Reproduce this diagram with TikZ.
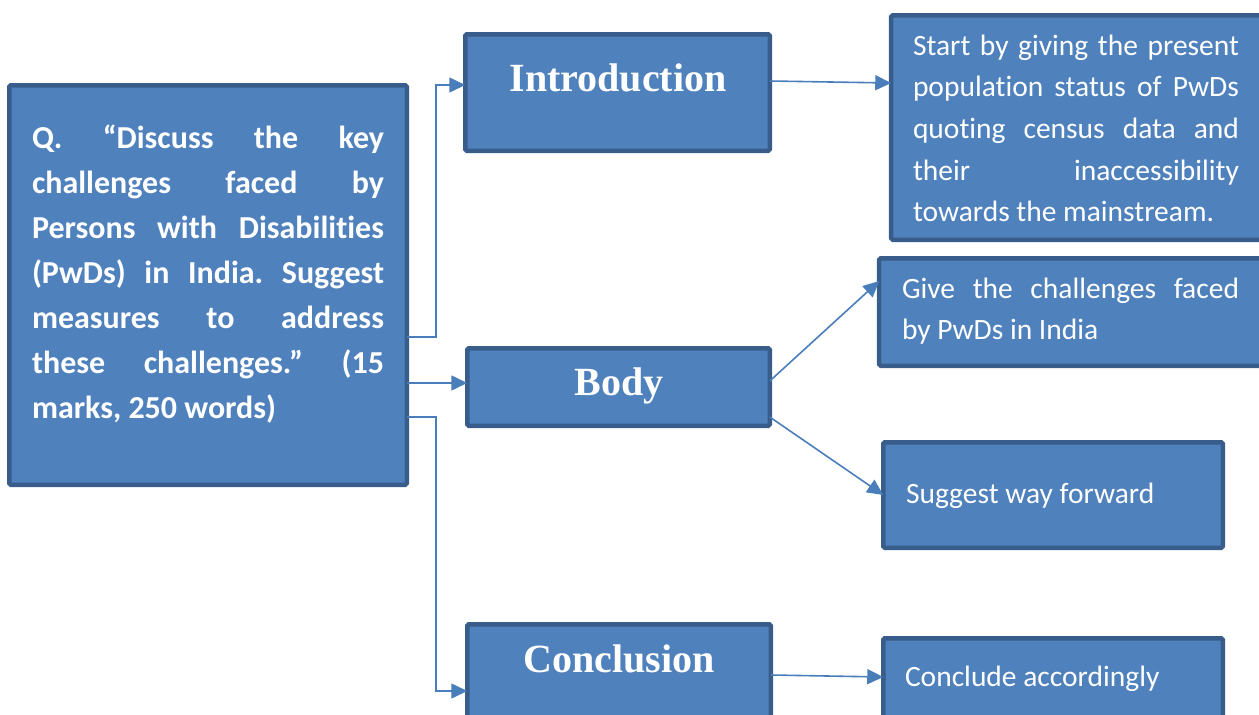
\documentclass[tikz,border=0pt]{standalone}
\usepackage{fontspec}
\setmainfont{Carlito}[Ligatures={NoCommon,NoContextual}]
\newfontfamily\headfont{Liberation Serif}
\usetikzlibrary{arrows.meta}

\definecolor{boxfill}{HTML}{4F81BD}
\definecolor{boxline}{HTML}{385D8A}
\definecolor{linkc}{HTML}{4A7EBB}

% justified line of fixed width
\newcommand{\jl}[2]{\makebox[#1][s]{#2}}
\frenchspacing

\tikzset{
  box/.style={draw=boxline, fill=boxfill, line width=4.5pt, rounded corners=1.5pt,
              inner sep=0pt, outer sep=0pt},
  conn/.style={draw=linkc, line width=1.6pt, -{Triangle[length=16pt,width=15pt]}},
  head/.style={text=white, font=\headfont\bfseries\fontsize{40}{48}\selectfont,
               inner sep=0pt, outer sep=0pt, anchor=base},
  qtext/.style={text=white, font=\bfseries\fontsize{32}{45}\selectfont, align=left,
                inner sep=0pt, outer sep=0pt, anchor=north west},
  rtext/.style={text=white, font=\fontsize{29.5}{41.6}\selectfont, align=left,
                inner sep=0pt, outer sep=0pt, anchor=north west},
  single/.style={text=white, font=\fontsize{29.5}{41.6}\selectfont,
                 inner sep=0pt, outer sep=0pt, anchor=base west},
}

\begin{document}
\begin{tikzpicture}[x=1pt, y=-1pt]
\useasboundingbox (0,0) rectangle (1259,715);

% boxes
\node[box, minimum width=397.5pt, minimum height=399.5pt] (q) at (208,285) {};
\node[box, minimum width=304.5pt, minimum height=116.5pt] (intro) at (617.5,92.5) {};
\node[box, minimum width=302.5pt, minimum height=77.5pt] (body) at (618.5,387) {};
\node[box, minimum width=303.5pt, minimum height=116.5pt] (concl) at (619,682.5) {};
\node[box, minimum width=378.75pt, minimum height=224.5pt] (itext) at (1080.6,127.5) {};
\node[box, minimum width=390.75pt, minimum height=107.5pt] (chal) at (1074.6,312) {};
\node[box, minimum width=339.5pt, minimum height=105.5pt] (way) at (1053,495) {};
\node[box, minimum width=339.5pt, minimum height=106.5pt] (conc) at (1053,691.5) {};

% question text
\node[qtext] (qt) at (32,116.5) {\strut\jl{352pt}{Q. “Discuss the key}\\
\jl{352pt}{challenges faced by}\\
\jl{352pt}{Persons with Disabilities}\\
\jl{352pt}{(PwDs) in India. Suggest}\\
\jl{352pt}{measures to address}\\
\jl{352pt}{these challenges.” (15}\\
marks, 250 words)};

% section headings
\node[head] (hintro) at (618,91) {Introduction};
\node[head] (hbody) at (619,395) {Body};
\node[head] (hconcl) at (619,672) {Conclusion};

% guidance texts
\node[rtext] (t1) at (913,26.2) {\strut\jl{326pt}{Start by giving the present}\\
\jl{326pt}{population status of PwDs}\\
\jl{326pt}{quoting census data and}\\
\jl{326pt}{their inaccessibility}\\
towards the mainstream.};
\node[rtext] (t2) at (902,268.9) {\strut\jl{337pt}{Give the challenges faced}\\
by PwDs in India};
\node[single] (t3) at (906,503) {Suggest way forward};
\node[single] (t4) at (905,686) {Conclude accordingly};

% connectors from the question
\draw[conn] (q.east |- 0,337) -| (436,85) -- (intro.west |- 0,85);
\draw[conn] (q.east |- 0,383) -- (body.west |- 0,383);
\draw[conn] (q.east |- 0,417) -| (436,691) -- (concl.west |- 0,691);

% connectors to the guidance boxes
\draw[conn] (intro.east |- 0,81) -- (itext.west |- 0,83);
\draw[conn] (body.east |- 0,381) -- (chal.west |- 0,281);
\draw[conn] (body.east |- 0,417) -- (way.west |- 0,495);
\draw[conn] (concl.east |- 0,675) -- (conc.west |- 0,677);
\end{tikzpicture}
\end{document}
